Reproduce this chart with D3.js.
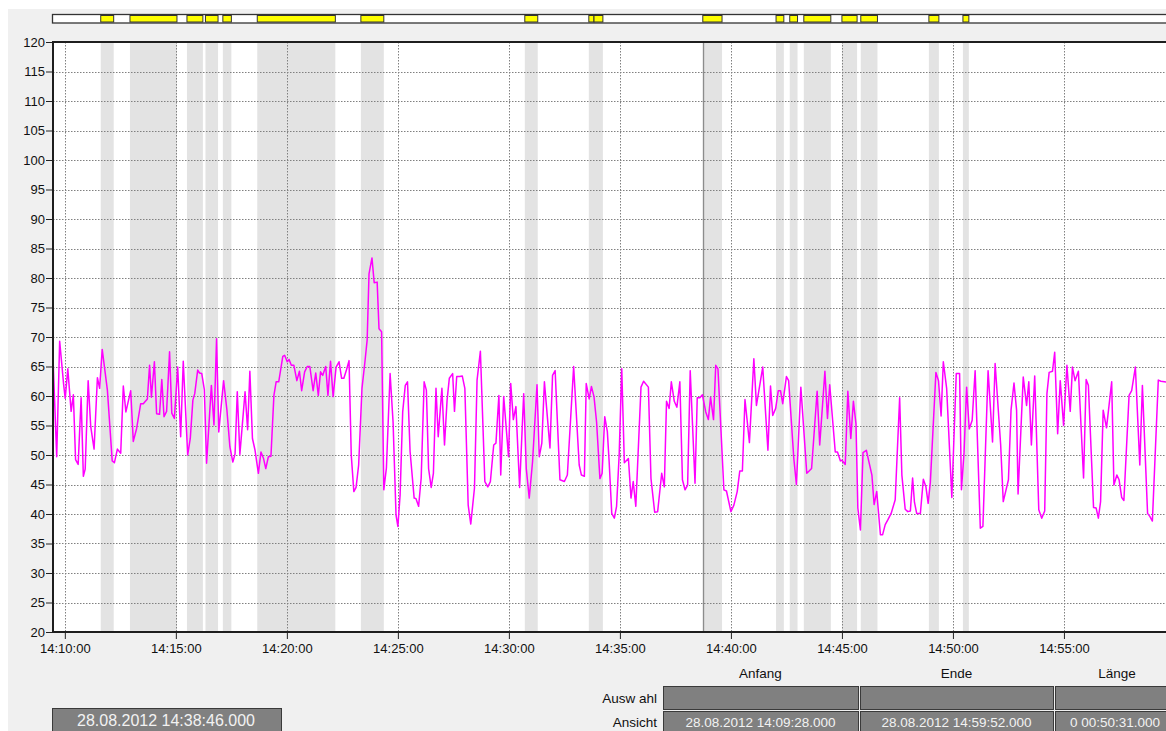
<!DOCTYPE html>
<html><head><meta charset="utf-8">
<script src="https://cdn.jsdelivr.net/npm/d3@7"></script>
<style>
html,body{margin:0;padding:0;background:#fff;}
svg{display:block;font-family:"Liberation Sans",Arial,sans-serif;}
</style></head>
<body>
<svg id="chart" width="1166" height="731"></svg>
<script>
// time offsets in seconds from 14:10:00 on 28.08.2012
const lineSec = [-32,-22,-14,-3,1,8,17,23,29,36,44,50,55,63,70,79,88,94,101,115,128,134,142,151,158,165,178,185,194,205,212,223,229,234,242,248,256,262,268,275,283,289,296,305,313,320,332,339,346,351,359,364,370,377,383,396,403,410,416,429,438,446,454,460,466,473,487,494,500,507,514,523,530,537,543,550,557,565,571,578,589,594,601,606,612,619,627,634,640,648,655,662,671,678,685,691,697,705,711,718,
725,733,741,748,754,761,768,774,781,787,794,803,811,817,822,830,836,844,849,856,862,869,879,887,895,900,906,913,920,926,933,944,949,956,963,971,977,983,990,996,1003,1009,1019,1026,1033,1039,1048,1053,1059,1067,1074,1081,1090,1097,1107,1114,1123,1135,1143,1150,1159,1165,1173,1178,1186,1199,1205,1212,1219,1229,1240,1247,1255,1264,1276,1282,1289,1296,1311,1318,1325,1338,1350,1358,1375,1390,1396,1404,1409,1417,1423,1430,1437,1446,1452,1459,1466,
1471,1478,1485,1491,1498,1505,1512,1523,1530,1536,1543,1557,1564,1577,1584,1594,1602,1613,1620,1626,1633,1639,1647,1654,1662,1669,1676,1683,1690,1703,1709,1716,1723,1732,1739,1745,1753,1759,1765,1781,1788,1800,1808,1817,1824,1831,1838,1850,1862,1869,1886,1900,1907,1913,1921,1928,1934,1940,1950,1956,1970,1977,1989,2005,2010,2018,2033,2040,2054,2061,2067,2082,2088,2096,2100,2109,2116,2124,2131,2138,2143,2150,2157,2166,2181,2187,2194,2204,2210,2217,2224,
2233,2244,2256,2262,2271,2278,2285,2291,2296,2302,2312,2320,2327,2333,2339,2354,2361,2368,2374,2383,2397,2409,2418,2423,2430,2437,2444,2452,2460,2474,2481,2495,2507,2514,2529,2536,2550,2557,2565,2572,2576,2590,2599,2605,2612,2621,2632,2640,2648,2654,2660,2669,2675,2683,2690,2699,2708,2717,2723,2730,2739,2753,2760,2766,2780,2787,2793,2799,2806,2815,2829,2835,2843,2849,2856,2862,2876,2883,2893,2905,2912,2926,2932,2939,2955,2962,2992];
const lineVal = [66.5,49.7,69.3,61.8,59.6,64.6,57.4,60.2,49.2,48.4,59.7,46.4,47.6,62.6,54.8,51,63.1,61.3,67.9,61,49,48.7,51,50.3,61.7,57.3,60.9,52.3,54.5,58.7,58.7,59.5,65.2,59.8,65.8,57,56.9,62.8,56.5,57.4,67.5,57.1,56.2,64.9,53.1,65.9,50,52.8,59.3,60.4,64.4,63.9,63.8,61.1,48.6,61.8,55.1,69.7,53.9,62.6,57.6,51.4,48.8,50.2,60.7,50.1,60.7,54.3,64.2,52.8,50.8,46.9,50.5,49.4,47.7,49.7,49.8,60.1,62.4,62.4,66.7,66.9,65.8,66.2,65.2,65.2,62.6,64.2,60.9,64.1,65,65,60.9,63.9,60.1,64.1,63.5,65,60.1,65.9,
59.9,64.9,65.8,63,63,64.4,66,50,43.8,44.5,48.3,61.3,65.8,69.5,80.7,83.4,79.2,79.3,71.4,70.9,44.1,47.8,63.8,55.6,39.8,37.9,43.2,57.3,61.8,62.4,50.6,42.7,42.6,41.3,46.1,62.4,61,47.7,44.5,46.9,61.3,53.1,61.3,51.7,59.3,63,63.8,57.4,63.3,63.3,63.4,61.3,41.5,38.3,44.4,62.7,67.6,45.5,44.6,45.5,51.7,52,60.1,46.6,59.9,49.7,62.1,56,58.2,44.5,60.4,47.7,42.7,48.9,61.9,49.7,52,62.4,51.2,63.5,64.3,45.8,45.5,46.6,65,48.3,46.6,46.4,62.1,59.5,61.6,59.9,55.6,46,46.9,56.5,54,
48.8,40.1,39.3,41.3,50,64.6,48.7,49.4,42.7,45.5,41.3,61.5,62.5,61.5,46,40.3,40.4,46.9,44.6,59.1,57.9,62.4,59.1,58.1,62.4,45.8,44.1,44.9,64.3,45.2,59.7,59.7,60.2,57.3,56,59.8,56,65.2,64.6,44.1,43.9,40.4,41.5,43.8,47.3,47.3,59.4,52.1,66.3,58.4,64.9,50.8,61.7,56.7,57.9,60.9,60.9,58.7,63.3,62.6,49.4,45,61.5,46.9,47.2,47.7,60.8,51.7,64.2,56.2,61.9,50.5,50.5,49,49.1,48.4,60.8,52.8,59.1,55.3,41,37.3,50.4,50.8,46.6,41.6,43.8,36.5,36.5,38.2,39,
40.1,42.4,59.7,46.6,40.8,40.4,40.5,46.1,42,40.1,40.1,45.9,44.6,41.8,45.4,64,62.6,56.6,65.8,61.3,42.8,63.8,63.8,44.1,50.4,61.5,54.4,55.9,64.3,37.6,37.9,64.3,52.2,65.5,51.7,42.1,45.8,57.6,62.2,57.6,43.4,63.2,58.4,62.4,51.7,63.4,40.7,39.3,40.5,60.4,64,64.2,67.4,53.6,62.6,55,65.2,57.4,64.9,62.6,64.2,46.1,62.8,61.8,41.1,41,39.3,42.1,57.6,54.6,62.4,44.9,46.6,45.8,42.8,42.3,60.1,60.9,64.9,48.3,61.8,40.1,39.6,38.8,62.7,62.5,62.2];

// marked intervals (seconds from 14:10:00)
const markStart = [97,176,330,380,427,520,800,1243,1416,1430,1724,1922,1959,1997,2100,2151,2335,2427];
const markEnd   = [132,303,373,414,450,731,862,1278,1430,1454,1776,1943,1980,2070,2141,2196,2362,2443];

const yTicks = d3.range(20, 121, 5);
const cursorSec = 1726; // 14:38:46
const cursorLabel = "28.08.2012 14:38:46.000";
const colHeaders = ["Anfang","Ende","Länge"];
const rowHeaders = ["Ausw ahl","Ansicht"];
const rowSel = ["","",""];
const rowView = ["28.08.2012 14:09:28.000","28.08.2012 14:59:52.000","0 00:50:31.000"];

const base = new Date(2012,7,28,14,10,0).getTime();
const T = s => new Date(base + s*1000);
const viewStart = new Date(2012,7,28,14,9,28);
const viewEnd = new Date(2012,7,28,14,59,52);

const svg = d3.select("#chart");
const L = 53, R = 1172, TOP = 42, BOT = 632;
const x = d3.scaleTime().domain([viewStart, viewEnd]).range([L, R]);
const y = d3.scaleLinear().domain([20,120]).range([BOT, TOP]);

// panel background
svg.append("rect").attr("x",8).attr("y",9).attr("width",1166).attr("height",731).attr("fill","#f0f0f0");

// top overview strip
svg.append("rect").attr("x",L-0.5).attr("y",14.5).attr("width",R-L+10).attr("height",8.5)
  .attr("fill","#fff").attr("stroke","#333").attr("stroke-width",1.3);
svg.append("g").selectAll("rect").data(markStart).join("rect")
  .attr("x",(d,i)=>x(T(d))).attr("y",15.5)
  .attr("width",(d,i)=>Math.max(1,x(T(markEnd[i]))-x(T(d)))).attr("height",6.5)
  .attr("fill","#ffff00").attr("stroke","#333").attr("stroke-width",1);

// plot background
svg.append("rect").attr("x",L).attr("y",TOP).attr("width",R-L).attr("height",BOT-TOP).attr("fill","#fff");

// bands
svg.append("g").selectAll("rect").data(markStart).join("rect")
  .attr("x",d=>x(T(d))).attr("y",TOP)
  .attr("width",(d,i)=>x(T(markEnd[i]))-x(T(d))).attr("height",BOT-TOP)
  .attr("fill","#e3e3e3");

// grid
const xTicks = d3.range(0, 50*60, 300).map(T).filter(d=>d>=viewStart && d<=viewEnd);
svg.append("g").selectAll("line").data(yTicks).join("line")
  .attr("x1",L).attr("x2",R).attr("y1",d=>Math.round(y(d))+0.5).attr("y2",d=>Math.round(y(d))+0.5)
  .attr("stroke","#808080").attr("stroke-dasharray","1.5,1.5");
svg.append("g").selectAll("line").data(xTicks).join("line")
  .attr("x1",d=>Math.round(x(d))+0.5).attr("x2",d=>Math.round(x(d))+0.5).attr("y1",TOP).attr("y2",BOT)
  .attr("stroke","#808080").attr("stroke-dasharray","1.5,1.5");

// cursor
svg.append("line").attr("x1",x(T(cursorSec))).attr("x2",x(T(cursorSec))).attr("y1",TOP).attr("y2",BOT)
  .attr("stroke","#8c8c8c").attr("stroke-width",1.3);

// line
const pts = lineSec.map((s,i)=>[T(s), lineVal[i]]);
svg.append("defs").append("clipPath").attr("id","clip").append("rect")
  .attr("x",L).attr("y",TOP).attr("width",R-L).attr("height",BOT-TOP);
svg.append("path").datum(pts).attr("clip-path","url(#clip)")
  .attr("d", d3.line().x(d=>x(d[0])).y(d=>y(d[1])))
  .attr("fill","none").attr("stroke","#ff00ff").attr("stroke-width",1.5).attr("stroke-linejoin","round");

// axes
const yAxis = svg.append("g").attr("transform",`translate(${L-1},0)`)
  .call(d3.axisLeft(y).tickValues(yTicks).tickSize(6).tickPadding(1).tickFormat(d3.format("d")));
const xAxis = svg.append("g").attr("transform",`translate(0,${BOT})`)
  .call(d3.axisBottom(x).tickValues(xTicks).tickSize(7).tickPadding(5).tickFormat(d3.timeFormat("%H:%M:%S")));
[yAxis,xAxis].forEach(g=>{
  g.select(".domain").remove();
  g.selectAll("line").attr("stroke","#222");
  g.selectAll("text").attr("fill","#111").style("font-size","13px").style("font-family","'Liberation Sans',Arial,sans-serif");
});

// frame
svg.append("path").attr("d",`M${R+10},${TOP}H${L}V${BOT}H${R+10}`)
  .attr("fill","none").attr("stroke","#1e1e1e").attr("stroke-width",2);

// bottom table
const colX = [663, 860, 1055], colW = [195, 193, 120];
const hdr = svg.append("g").style("font-size","13.5px").attr("fill","#111");
colHeaders.forEach((h,i)=>{
  const cx = i<2 ? colX[i]+colW[i]/2 : 1117;
  hdr.append("text").attr("x",cx).attr("y",678).attr("text-anchor","middle").text(h);
});
const rowY = [686, 711], rowH = [23, 22];
rowHeaders.forEach((h,r)=>{
  hdr.append("text").attr("x",657).attr("y",rowY[r]+rowH[r]/2+5).attr("text-anchor","end").text(h);
});
[rowSel,rowView].forEach((row,r)=>{
  row.forEach((txt,i)=>{
    svg.append("rect").attr("x",colX[i]+0.5).attr("y",rowY[r]+0.5).attr("width",colW[i]).attr("height",rowH[r])
      .attr("fill","#808080").attr("stroke","#3a3a3a").attr("stroke-width",1);
    if(txt) svg.append("text").attr("x",colX[i]+colW[i]/2).attr("y",rowY[r]+rowH[r]/2+5)
      .attr("text-anchor","middle").attr("fill","#f2f2f2").style("font-size","13.5px").text(txt);
  });
});

// cursor time box
svg.append("rect").attr("x",52.5).attr("y",708.5).attr("width",229).attr("height",24)
  .attr("fill","#808080").attr("stroke","#3a3a3a");
svg.append("text").attr("x",166).attr("y",726).attr("text-anchor","middle").attr("fill","#f2f2f2")
  .style("font-size","16px").text(cursorLabel);
</script>
</body></html>
